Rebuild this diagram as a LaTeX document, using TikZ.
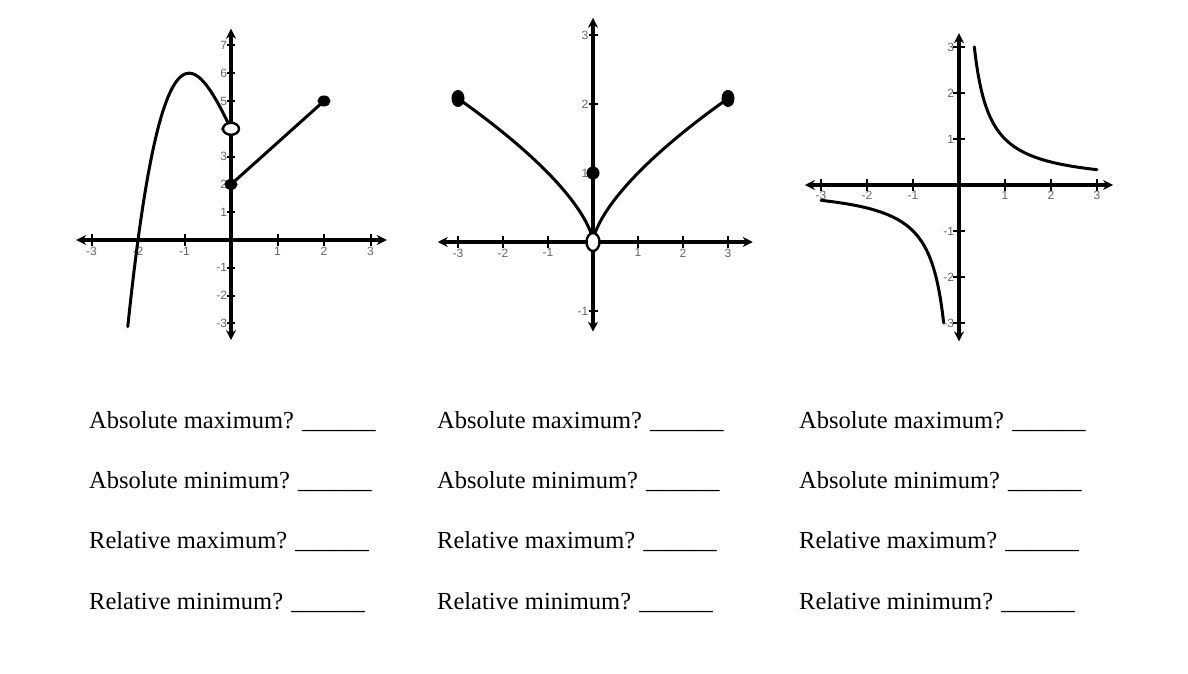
\documentclass[tikz,border=0pt]{standalone}
\usepackage{fontspec}
\setmainfont{Liberation Serif}
\newfontfamily\lblfont{Liberation Sans}
\usetikzlibrary{arrows.meta}
\tikzset{
  axis/.style={line width=3.2pt,{Stealth[length=10pt,width=10pt]}-{Stealth[length=10pt,width=10pt]}},
  tickmark/.style={line width=2pt},
  curve/.style={line width=3pt,line cap=round},
  tlbl/.style={font=\lblfont\fontsize{12}{12}\selectfont,text=black!60,inner sep=1pt},
  qtext/.style={font=\fontsize{24.5}{28}\selectfont,anchor=base west,inner sep=0pt},
  filled/.style={fill=black,draw=black,line width=1pt},
  opendot/.style={fill=white,draw=black,line width=2.4pt}
}
\begin{document}
\begin{tikzpicture}
\useasboundingbox[fill=white] (0,0) rectangle (1188pt,-674pt);
% Graph 1
\begin{scope}[shift={(231pt,-240pt)},x=46.5pt,y=27.8pt]
  \coordinate (l1) at (-3.33,0); \coordinate (r1) at (3.35,0);
  \coordinate (b1) at (0,-3.6); \coordinate (t1) at (0,7.6);
  \draw[axis] (l1) -- (r1);
  \draw[axis] (b1) -- (t1);
  \foreach \i in {-3,-2,-1,1,2,3} {\draw[tickmark] (\i,-0.2) -- (\i,0.2);}
  \foreach \j in {-3,-2,-1,1,2,3,4,5,6,7} {\draw[tickmark] (-0.08,\j) -- (0.08,\j);}
  \foreach \i in {-3,-2,-1,1,2,3} {\node[tlbl,anchor=north] (gx\i) at (\i,-0.2) {\i};}
  \foreach \j in {-3,-2,-1,1,2,3,4,5,6,7} {\node[tlbl,anchor=east] (gy\j) at (-0.06,\j) {\j};}
  \draw[curve] plot[domain=-2.22:-0.02,samples=80,smooth] (\x,{1.245*\x*\x*\x-0.227*\x*\x-3.434*\x+4});
  \coordinate (p2) at (0,2); \coordinate (p5) at (2,5);
  \draw[curve] (p2) -- (p5);
  \fill[filled] (p2) ellipse (6pt and 5pt);
  \fill[filled] (p5) ellipse (6pt and 5pt);
  \draw[opendot] (0,4) ellipse (8pt and 6pt);
\end{scope}
% Graph 2
\begin{scope}[shift={(593pt,-242pt)},x=45pt,y=69pt]
  \coordinate (l2) at (-3.45,0); \coordinate (r2) at (3.55,0);
  \coordinate (b2) at (0,-1.3); \coordinate (t2) at (0,3.25);
  \draw[axis] (l2) -- (r2);
  \draw[axis] (b2) -- (t2);
  \foreach \i in {-3,-2,-1,1,2,3} {\draw[tickmark] (\i,-0.08) -- (\i,0.08);}
  \foreach \j in {-1,1,2,3} {\draw[tickmark] (-0.1,\j) -- (0.1,\j);}
  \foreach \i in {-3,-2,-1,1,2,3} {\node[tlbl,anchor=north] (hx\i) at (\i,-0.08) {\i};}
  \foreach \j in {-1,1,2,3} {\node[tlbl,anchor=east] (hy\j) at (-0.08,\j) {\j};}
  \draw[curve] plot[domain=0:3,samples=80,smooth] (\x,{pow(\x,2/3)});
  \draw[curve] plot[domain=0:3,samples=80,smooth] (-\x,{pow(\x,2/3)});
  \fill[filled] (-3,2.08) ellipse (6pt and 8pt);
  \fill[filled] (3,2.08) ellipse (6pt and 8pt);
  \fill[filled] (0,1) ellipse (6pt and 6pt);
  \draw[opendot] (0,0) ellipse (6.5pt and 9pt);
\end{scope}
% Graph 3
\begin{scope}[shift={(959pt,-185pt)},x=46pt,y=46pt]
  \coordinate (l3) at (-3.35,0); \coordinate (r3) at (3.35,0);
  \coordinate (b3) at (0,-3.4); \coordinate (t3) at (0,3.3);
  \draw[axis] (l3) -- (r3);
  \draw[axis] (b3) -- (t3);
  \foreach \i in {-3,-2,-1,1,2,3} {\draw[tickmark] (\i,-0.12) -- (\i,0.12);}
  \foreach \j in {-3,-2,-1,1,2,3} {\draw[tickmark] (-0.12,\j) -- (0.12,\j);}
  \foreach \i in {-3,-2,-1,1,2,3} {\node[tlbl,anchor=north] (kx\i) at (\i,-0.1) {\i};}
  \foreach \j in {-3,-2,-1,1,2,3} {\node[tlbl,anchor=east] (ky\j) at (-0.08,\j) {\j};}
  \draw[curve] plot[domain=0.333:3,samples=100,smooth] (\x,{1/\x});
  \draw[curve] plot[domain=-3:-0.333,samples=100,smooth] (\x,{1/\x});
\end{scope}
% Questions
\foreach \c/\xx in {a/89,b/437,c/799} {
  \node[qtext] (\c1) at (\xx pt,-428pt) {Absolute maximum? \_\_\_\_\_\_};
  \node[qtext] (\c2) at (\xx pt,-488pt) {Absolute minimum? \_\_\_\_\_\_};
  \node[qtext] (\c3) at (\xx pt,-548pt) {Relative maximum? \_\_\_\_\_\_};
  \node[qtext] (\c4) at (\xx pt,-609pt) {Relative minimum? \_\_\_\_\_\_};
}
\end{tikzpicture}
\end{document}
